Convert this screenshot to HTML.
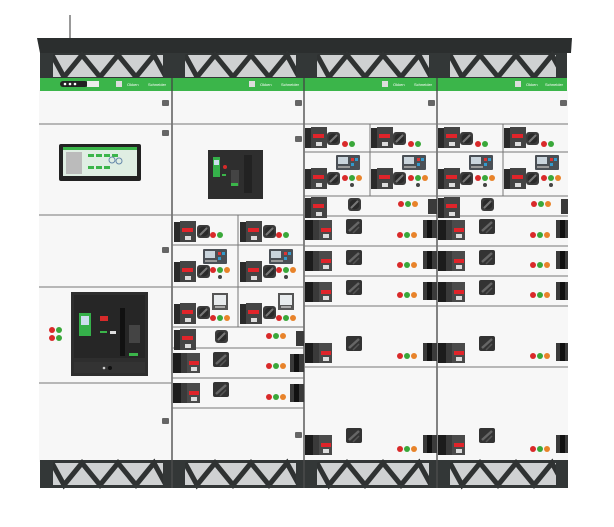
<!DOCTYPE html>
<html><head><meta charset="utf-8"><style>
html,body{margin:0;padding:0;background:#fff;width:614px;height:527px;overflow:hidden}
svg{display:block}
text{font-family:"Liberation Sans",sans-serif}
</style></head><body>
<svg width="614" height="527" viewBox="0 0 614 527" xmlns="http://www.w3.org/2000/svg">
<defs>
<g id="mcb"><rect x="0" y="0" width="6" height="20" fill="#2a2a2a"/><rect x="6" y="-1" width="16" height="21" fill="#444"/><rect x="8" y="6" width="11" height="4" fill="#e0242a"/><rect x="11" y="14" width="6" height="4" fill="#ddd"/></g>
<g id="mcbL"><rect x="0" y="0" width="8" height="20" fill="#1c1c1c"/><rect x="8" y="0" width="6" height="20" fill="#3a3a3a"/><rect x="14" y="0" width="13" height="20" fill="#4a4a4a"/><rect x="16" y="8" width="10" height="4" fill="#e0242a"/><rect x="18" y="14" width="6" height="4" fill="#ddd"/></g>
<g id="knob"><rect x="0" y="0" width="13" height="13" rx="3" fill="#3c3c3c"/><circle cx="6.5" cy="6.5" r="5" fill="#2a2a2a"/><line x1="3" y1="10" x2="10" y2="3" stroke="#777" stroke-width="2"/></g>
<g id="knobB"><rect x="0" y="0" width="16" height="15" rx="2" fill="#333"/><line x1="3" y1="12" x2="13" y2="3" stroke="#666" stroke-width="2.5"/><line x1="7" y1="14" x2="13" y2="8" stroke="#555" stroke-width="1.5"/></g>
<g id="end"><rect x="0" y="0" width="14" height="18" fill="#3a3a3a"/><rect x="4" y="0" width="5" height="18" fill="#111"/></g>
<g id="l2"><circle cx="0" cy="0" r="3" fill="#d92a2a"/><circle cx="7" cy="0" r="3" fill="#3aa83a"/></g>
<g id="l3"><circle cx="0" cy="0" r="3" fill="#d92a2a"/><circle cx="7" cy="0" r="3" fill="#3aa83a"/><circle cx="14" cy="0" r="3" fill="#e8832a"/></g>
<g id="meter"><rect x="0" y="0" width="24" height="15" rx="1" fill="#4a4f55"/><rect x="2" y="2" width="10" height="7" fill="#c9d4dc"/><rect x="15" y="3" width="3" height="3" fill="#d33"/><rect x="19" y="3" width="3" height="3" fill="#39c"/><rect x="15" y="8" width="3" height="3" fill="#39c"/><rect x="2" y="11" width="12" height="2" fill="#999"/></g>
<g id="pm"><rect x="0" y="0" width="16" height="17" fill="#555"/><rect x="2" y="2" width="12" height="10" fill="#e8ecee"/><rect x="3" y="13" width="10" height="2" fill="#aaa"/></g>
<g id="hinge"><rect x="0" y="0" width="7" height="6" rx="1" fill="#666"/></g>
<g id="trel"><rect x="0" y="0" width="112" height="22" fill="#cfd1d2"/><polyline points="0,0 12,22 30,0 48,22 66,0 84,22 102,0 114,22" fill="none" stroke="#2f3232" stroke-width="5"/></g>
</defs>

<!-- body -->
<rect x="39" y="90" width="529" height="372" fill="#f7f7f7"/>
<line x1="70" y1="15" x2="70" y2="38" stroke="#333" stroke-width="1"/>
<!-- roof -->
<polygon points="37,38 572,38 571,53 40,53" fill="#2b2e2e"/>
<rect x="40" y="53" width="527" height="25" fill="#333737"/>
<!-- trellis per column -->
<use href="#trel" x="52" y="55"/><use href="#trel" x="185" y="55"/><use href="#trel" x="317" y="55"/><use href="#trel" x="450" y="55"/>
<rect x="40" y="53" width="13" height="25" fill="#333737"/><rect x="163" y="53" width="22" height="25" fill="#333737"/><rect x="296" y="53" width="21" height="25" fill="#333737"/><rect x="429" y="53" width="21" height="25" fill="#333737"/><rect x="556" y="53" width="11" height="25" fill="#333737"/>
<!-- green strip -->
<rect x="40" y="78" width="527" height="13" fill="#3bb54a"/>
<rect x="60" y="81" width="28" height="6" rx="3" fill="#222"/><rect x="87" y="81" width="12" height="6" fill="#eee"/>
<circle cx="65" cy="84" r="1.3" fill="#fff"/><circle cx="70" cy="84" r="1.3" fill="#fff"/><circle cx="75" cy="84" r="1.3" fill="#fff"/>
<g font-size="4" fill="#fff">
<rect x="116" y="81" width="6" height="6" fill="#ddd"/><text x="127" y="86">Okken</text><text x="148" y="86">Schneider</text>
<rect x="249" y="81" width="6" height="6" fill="#ddd"/><text x="260" y="86">Okken</text><text x="281" y="86">Schneider</text>
<rect x="382" y="81" width="6" height="6" fill="#ddd"/><text x="393" y="86">Okken</text><text x="414" y="86">Schneider</text>
<rect x="515" y="81" width="6" height="6" fill="#ddd"/><text x="526" y="86">Okken</text><text x="545" y="86">Schneider</text>
</g>
<!-- column dividers -->
<g stroke="#444" stroke-width="1.3">
<line x1="172" y1="78" x2="172" y2="462"/><line x1="304" y1="78" x2="304" y2="462"/><line x1="437" y1="78" x2="437" y2="462"/>
</g>
<!-- horizontal lines -->
<g stroke="#777" stroke-width="1">
<line x1="39" y1="124" x2="568" y2="124"/>
<line x1="39" y1="215" x2="304" y2="215"/>
<line x1="39" y1="287" x2="172" y2="287"/>
<line x1="39" y1="383" x2="172" y2="383"/>
<line x1="172" y1="245" x2="304" y2="245"/><line x1="172" y1="287" x2="304" y2="287"/>
<line x1="172" y1="327" x2="304" y2="327"/><line x1="172" y1="348" x2="304" y2="348"/>
<line x1="172" y1="378" x2="304" y2="378"/><line x1="172" y1="408" x2="304" y2="408"/>
<line x1="238" y1="215" x2="238" y2="327"/>
<line x1="304" y1="152" x2="568" y2="152"/><line x1="304" y1="196" x2="568" y2="196"/>
<line x1="304" y1="216" x2="568" y2="216"/><line x1="304" y1="246" x2="568" y2="246"/>
<line x1="304" y1="276" x2="568" y2="276"/><line x1="304" y1="306" x2="568" y2="306"/>
<line x1="304" y1="367" x2="568" y2="367"/>
<line x1="370" y1="124" x2="370" y2="196"/><line x1="503" y1="124" x2="503" y2="196"/>
</g>
<!-- hinges -->
<use href="#hinge" x="162" y="100"/><use href="#hinge" x="162" y="130"/><use href="#hinge" x="162" y="247"/><use href="#hinge" x="162" y="418"/>
<use href="#hinge" x="295" y="100"/><use href="#hinge" x="295" y="136"/><use href="#hinge" x="295" y="432"/>
<use href="#hinge" x="428" y="100"/><use href="#hinge" x="560" y="100"/>
<!-- col1 screen -->
<rect x="59" y="144" width="82" height="37" rx="2" fill="#222"/>
<rect x="63" y="147" width="74" height="29" fill="#dfeee3"/>
<rect x="63" y="147" width="74" height="3" fill="#3bb54a"/>
<rect x="66" y="152" width="16" height="22" fill="#bbb"/>
<rect x="88" y="154" width="6" height="3" fill="#3bb54a"/><rect x="96" y="154" width="6" height="3" fill="#3bb54a"/><rect x="104" y="154" width="6" height="3" fill="#3bb54a"/><rect x="112" y="154" width="6" height="3" fill="#3bb54a"/>
<rect x="88" y="166" width="6" height="3" fill="#3bb54a"/><rect x="96" y="166" width="6" height="3" fill="#3bb54a"/><rect x="104" y="166" width="6" height="3" fill="#3bb54a"/>
<circle cx="112" cy="160" r="3" fill="none" stroke="#68a"/><circle cx="119" cy="161" r="3" fill="none" stroke="#68a"/>
<!-- col1 breaker -->
<rect x="71" y="292" width="77" height="84" fill="#2e2e2e"/>
<rect x="74" y="295" width="71" height="63" fill="#262626"/>
<rect x="79" y="313" width="12" height="23" fill="#35b04a"/><rect x="81" y="316" width="8" height="9" fill="#cde"/>
<rect x="100" y="316" width="8" height="5" fill="#d62a2a"/><rect x="100" y="331" width="7" height="2" fill="#3bb54a"/><rect x="110" y="331" width="6" height="3" fill="#ddd"/>
<rect x="120" y="308" width="5" height="48" fill="#111"/><rect x="129" y="325" width="11" height="18" fill="#444"/><rect x="129" y="353" width="9" height="3" fill="#3bb54a"/>
<rect x="74" y="362" width="71" height="11" fill="#333"/><circle cx="110" cy="368" r="2" fill="#111"/><circle cx="104" cy="368" r="1.3" fill="#ccc"/>
<circle cx="52" cy="330" r="3" fill="#d92a2a"/><circle cx="59" cy="330" r="3" fill="#3aa83a"/><circle cx="52" cy="338" r="3" fill="#d92a2a"/><circle cx="59" cy="338" r="3" fill="#3aa83a"/>
<!-- col2 breaker -->
<rect x="208" y="150" width="55" height="49" fill="#2e2e2e"/>
<rect x="213" y="157" width="7" height="20" fill="#35b04a"/><rect x="214" y="160" width="5" height="5" fill="#cde"/>
<circle cx="225" cy="167" r="2" fill="#d62a2a"/><rect x="222" y="174" width="4" height="2" fill="#3bb54a"/>
<rect x="231" y="170" width="8" height="16" fill="#444"/><rect x="231" y="183" width="7" height="3" fill="#3bb54a"/>
<rect x="244" y="155" width="8" height="38" fill="#222"/>
<!-- col2 modules -->
<use href="#mcb" x="174" y="222"/><use href="#knob" x="197" y="225"/><use href="#l2" x="213" y="235"/>
<use href="#mcb" x="240" y="222"/><use href="#knob" x="263" y="225"/><use href="#l2" x="279" y="235"/>
<use href="#meter" x="203" y="249"/><use href="#mcb" x="174" y="262"/><use href="#knob" x="197" y="265"/><use href="#l3" x="213" y="270"/><circle cx="220" cy="277" r="2" fill="#444"/>
<use href="#meter" x="269" y="249"/><use href="#mcb" x="240" y="262"/><use href="#knob" x="263" y="265"/><use href="#l3" x="279" y="270"/><circle cx="286" cy="277" r="2" fill="#444"/>
<use href="#pm" x="212" y="293"/><use href="#mcb" x="174" y="304"/><use href="#knob" x="197" y="306"/><use href="#l3" x="213" y="318"/>
<use href="#pm" x="278" y="293"/><use href="#mcb" x="240" y="304"/><use href="#knob" x="263" y="306"/><use href="#l3" x="279" y="318"/>
<use href="#mcb" x="174" y="330"/><use href="#knob" x="215" y="330"/><use href="#l3" x="269" y="336"/><rect x="296" y="331" width="8" height="15" fill="#3a3a3a"/>
<use href="#mcbL" x="173" y="353"/><use href="#knobB" x="213" y="352"/><use href="#l3" x="269" y="366"/><use href="#end" x="290" y="354"/>
<use href="#mcbL" x="173" y="383"/><use href="#knobB" x="213" y="382"/><use href="#l3" x="269" y="397"/><use href="#end" x="290" y="384"/>
<!-- col3 & col4 -->
<g id="c3">
<use href="#mcb" x="305" y="128"/><use href="#knob" x="327" y="132"/><use href="#l2" x="345" y="144"/>
<use href="#mcb" x="371" y="128"/><use href="#knob" x="393" y="132"/><use href="#l2" x="411" y="144"/>
<use href="#meter" x="336" y="155"/><use href="#mcb" x="305" y="169"/><use href="#knob" x="327" y="172"/><use href="#l3" x="345" y="178"/><circle cx="352" cy="185" r="2" fill="#444"/>
<use href="#meter" x="402" y="155"/><use href="#mcb" x="371" y="169"/><use href="#knob" x="393" y="172"/><use href="#l3" x="411" y="178"/><circle cx="418" cy="185" r="2" fill="#444"/>
<use href="#mcb" x="305" y="198"/><use href="#knob" x="348" y="198"/><use href="#l3" x="401" y="204"/><rect x="428" y="199" width="9" height="15" fill="#3a3a3a"/>
<use href="#mcbL" x="305" y="220"/><use href="#knobB" x="346" y="219"/><use href="#l3" x="400" y="235"/><use href="#end" x="423" y="220"/>
<use href="#mcbL" x="305" y="251"/><use href="#knobB" x="346" y="250"/><use href="#l3" x="400" y="265"/><use href="#end" x="423" y="251"/>
<use href="#mcbL" x="305" y="282"/><use href="#knobB" x="346" y="280"/><use href="#l3" x="400" y="295"/><use href="#end" x="423" y="282"/>
<use href="#mcbL" x="305" y="343"/><use href="#knobB" x="346" y="336"/><use href="#l3" x="400" y="356"/><use href="#end" x="423" y="343"/>
<use href="#mcbL" x="305" y="435"/><use href="#knobB" x="346" y="428"/><use href="#l3" x="400" y="449"/><use href="#end" x="423" y="435"/>
</g>
<use href="#c3" x="133" y="0"/>
<rect x="568" y="124" width="10" height="340" fill="#fff"/>
<!-- plinth -->
<rect x="40" y="460" width="528" height="28" fill="#333737"/>
<use href="#trel" x="52" y="463"/><use href="#trel" x="185" y="463"/><use href="#trel" x="317" y="463"/><use href="#trel" x="450" y="463"/>
<rect x="40" y="460" width="13" height="28" fill="#333737"/><rect x="163" y="460" width="22" height="28" fill="#333737"/><rect x="296" y="460" width="21" height="28" fill="#333737"/><rect x="429" y="460" width="21" height="28" fill="#333737"/><rect x="556" y="460" width="12" height="28" fill="#333737"/>
<rect x="40" y="485" width="528" height="3" fill="#333737"/>
<g stroke="#555" stroke-width="1"><line x1="172" y1="460" x2="172" y2="488"/><line x1="304" y1="460" x2="304" y2="488"/><line x1="437" y1="460" x2="437" y2="488"/></g>
</svg>
</body></html>
